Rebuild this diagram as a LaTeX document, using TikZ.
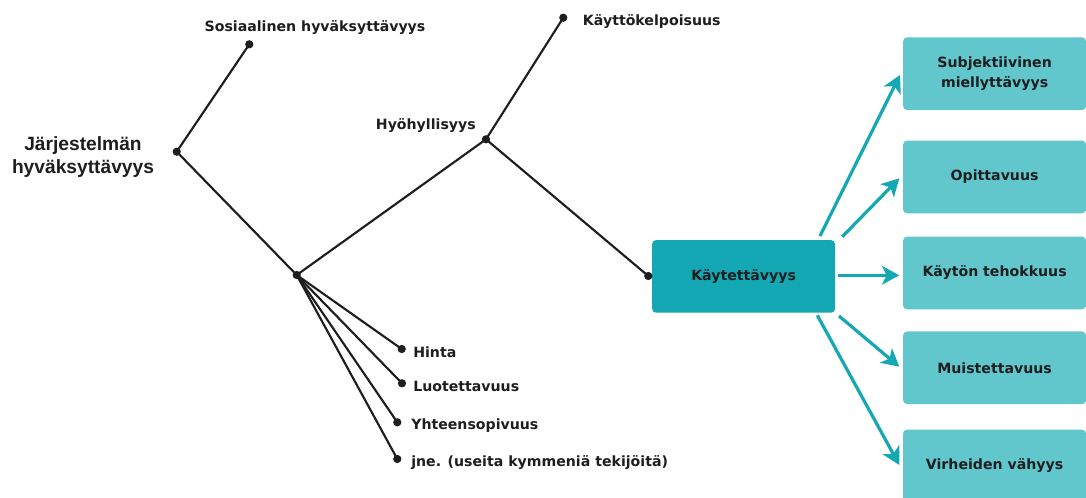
\documentclass[tikz,border=0pt]{standalone}
\usepackage{fontspec}
\setmainfont{DejaVu Sans}
\newfontfamily\arialfont{Liberation Sans}
\usetikzlibrary{arrows.meta,calc}
\definecolor{ink}{HTML}{1E1E1E}
\definecolor{tealdark}{HTML}{14A8B4}
\definecolor{teallight}{HTML}{62C7CD}
\begin{document}
\begin{tikzpicture}[x=0.75pt,y=-0.75pt,
  dot/.style={circle,fill=ink,inner sep=0pt,minimum size=6.2pt},
  edge/.style={draw=ink,line width=1.6pt},
  lbl/.style={inner sep=0pt,text=ink,font=\bfseries\fontsize{10.6}{13}\selectfont},
  bigbox/.style={rounded corners=3pt,fill=tealdark,inner sep=0pt,minimum width=137.25pt,minimum height=54.5pt,text=ink,font=\bfseries\fontsize{10.6}{13}\selectfont},
  subbox/.style={rounded corners=3pt,fill=teallight,inner sep=0pt,minimum width=137.25pt,minimum height=54.5pt,text=ink,align=center,font=\bfseries\fontsize{10.6}{15}\selectfont},
  arr/.style={draw=tealdark,line width=2.4pt,-{Stealth[length=13pt,width=14pt,inset=3.5pt]}}]
\clip (0,0) rectangle (1086,497);
\fill[white] (0,0) rectangle (1086,497);
% dots
\node[dot] (root) at (176.7,151.7) {};
\node[dot] (sos) at (249.3,44.3) {};
\node[dot] (junc) at (296.7,275) {};
\node[dot] (hyo) at (486,139.3) {};
\node[dot] (kok) at (563.3,17.7) {};
\node[dot] (hinta) at (401.7,349) {};
\node[dot] (luot) at (402,383.3) {};
\node[dot] (yht) at (397.3,422.3) {};
\node[dot] (jne) at (397.3,459) {};
% labels
\node[inner sep=0pt,text=ink,align=center,font=\arialfont\bfseries\fontsize{14.4}{17.25}\selectfont] (roott) at (83,157) {Järjestelmän\\hyväksyttävyys};
\node[lbl,anchor=base] (sost) at (315,31) {Sosiaalinen hyväksyttävyys};
\node[lbl,anchor=base west] (kokt) at (582.7,25.3) {Käyttökelpoisuus};
\node[lbl,anchor=base east] (hyot) at (476,129) {Hyöhyllisyys};
\node[lbl,anchor=base west] (hintat) at (413,357.3) {Hinta};
\node[lbl,anchor=base west] (luott) at (413,391) {Luotettavuus};
\node[lbl,anchor=base west] (yhtt) at (411,429) {Yhteensopivuus};
\node[lbl,anchor=base west] (jnet) at (411,466.7) {jne. (useita kymmeniä tekijöitä)};
% boxes
\node[bigbox] (kay) at (743.6,276.4) {Käytettävyys};
\node[dot] (kd) at (648.3,276) {};
\node[subbox] (b1) at (994.6,73.7) {Subjektiivinen\\miellyttävyys};
\node[subbox] (b2) at (994.6,177) {Opittavuus};
\node[subbox] (b3) at (994.6,273) {Käytön tehokkuus};
\node[subbox] (b4) at (994.6,367.8) {Muistettavuus};
\node[subbox] (b5) at (994.6,466) {Virheiden vähyys};
% tree edges
\draw[edge] (root.center) -- (sos.center);
\draw[edge] (root.center) -- (junc.center);
\draw[edge] (junc.center) -- (hyo.center);
\draw[edge] (hyo.center) -- (kok.center);
\draw[edge] (hyo.center) -- (kd.center);
\draw[edge] (junc.center) -- (hinta.center);
\draw[edge] (junc.center) -- (luot.center);
\draw[edge] (junc.center) -- (yht.center);
\draw[edge] (junc.center) -- (jne.center);
% arrows
\coordinate (a1s) at (820,236);   \coordinate (a1e) at (900,75);
\coordinate (a2s) at (842.3,236.7); \coordinate (a2e) at (899.3,178.3);
\coordinate (a3s) at (838.3,275.3); \coordinate (a3e) at (899.3,275.3);
\coordinate (a4s) at (839,316);   \coordinate (a4e) at (899.3,366.7);
\coordinate (a5s) at (817.3,315.3); \coordinate (a5e) at (899.3,465);
\draw[arr] (a1s) -- (a1e);
\draw[arr] (a2s) -- (a2e);
\draw[arr] (a3s) -- (a3e);
\draw[arr] (a4s) -- (a4e);
\draw[arr] (a5s) -- (a5e);
\end{tikzpicture}
\end{document}
